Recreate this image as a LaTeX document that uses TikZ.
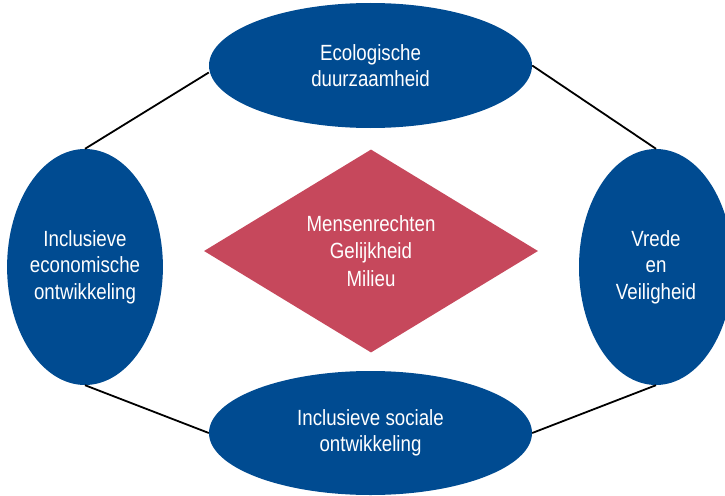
\documentclass[tikz,border=0pt]{standalone}
\usepackage{fontspec}
\setmainfont{Liberation Sans}[FakeStretch=0.85]
\usepackage{tikz}
\usetikzlibrary{shapes.geometric}

\definecolor{pijlerblauw}{RGB}{0,75,145}
\definecolor{kernrood}{RGB}{198,72,92}

\tikzset{
	pijler/.style={ellipse,fill=pijlerblauw,text=white,inner sep=0pt,align=center,
		font=\fontsize{22}{26.5}\selectfont},
	kern/.style={diamond,fill=kernrood,text=white,inner sep=0pt,aspect=1.65,align=center,
		minimum width=334pt,minimum height=203pt,font=\fontsize{22}{27.5}\selectfont},
	verbinding/.style={black,line width=1.8pt}
}

\begin{document}
\begin{tikzpicture}[x=1pt,y=-1pt]
	\clip (0,0) rectangle (725,495) ;
	\fill [white] (0,0) rectangle (725,495) ;
	% de vier pijlers
	\node [pijler,minimum width=323pt,minimum height=125pt] (eco) at (370.5,65.5) {Ecologische\\duurzaamheid} ;
	\node [pijler,minimum width=155pt,minimum height=236pt] (econ) at (85,267) {Inclusieve\\economische\\ontwikkeling} ;
	\node [pijler,minimum width=154pt,minimum height=236pt] (vrede) at (656,267) {Vrede\\en\\Veiligheid} ;
	\node [pijler,minimum width=323pt,minimum height=124pt] (soc) at (370.5,433) {Inclusieve sociale\\ontwikkeling} ;
	% midden
	\node [kern] (kern) at (371,251) {Mensenrechten\\Gelijkheid\\Milieu} ;
	% lijnen
	\draw [verbinding] (econ.north) -- ([yshift=-7pt]eco.west) ;
	\draw [verbinding] (eco.east) -- (vrede.north) ;
	\draw [verbinding] (econ.south) -- (soc.west) ;
	\draw [verbinding] (soc.east) -- (vrede.south) ;
\end{tikzpicture}
\end{document}
